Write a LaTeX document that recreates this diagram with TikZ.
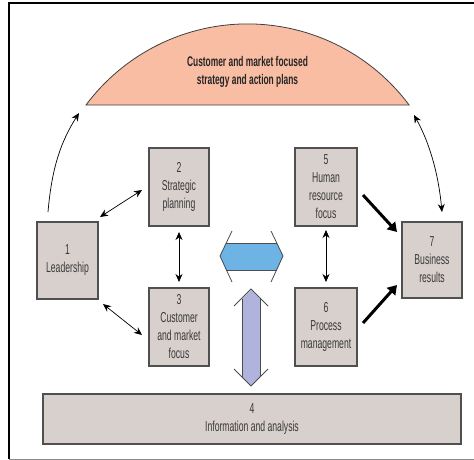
\documentclass[tikz,border=0pt]{standalone}
\usepackage{fontspec}
\setmainfont{Liberation Sans}[FakeStretch=0.6]
\usetikzlibrary{arrows.meta}
\definecolor{boxfill}{HTML}{D7D0CD}
\definecolor{boxline}{HTML}{505050}
\definecolor{txt}{HTML}{3A3A3A}
\definecolor{dome}{HTML}{F8BDA2}
\definecolor{hblue}{HTML}{6DB3E3}
\definecolor{vlav}{HTML}{B0B3DB}
\tikzset{
  box/.style={draw=boxline, line width=1.1pt, fill=boxfill, text=txt, align=center,
    font=\fontsize{14.4}{18}\selectfont, inner sep=0pt},
  thin/.style={line width=0.7pt, {Stealth[length=8pt,width=7pt]}-{Stealth[length=8pt,width=7pt]}},
  thinone/.style={line width=0.7pt, -{Stealth[length=8pt,width=7pt]}},
  thick/.style={line width=3pt, -{Triangle[length=9pt,width=11pt]}},
}
\begin{document}
\begin{tikzpicture}[x=1pt,y=-1pt]
\useasboundingbox (0,0) rectangle (474,460);
% frame
\draw[line width=1.5pt, black] (474,3) -- (9,3) -- (9,459);
\draw[line width=1pt, black!45] (9,459) -- (474,459);
% dome
\fill[dome] (86,105) arc[start angle=216.7, end angle=323.3, radius=201.5] -- cycle;
\draw[line width=0.8pt, black!75] (86,105) arc[start angle=216.7, end angle=323.3, radius=201.5] -- cycle;
\node[text=black!85, align=center, font=\fontsize{14}{18}\selectfont\bfseries] (dometxt) at (247.5,72) {Customer and market focused\\strategy and action plans};
\coordinate (domeL) at (79,113);
\coordinate (domeR) at (414,115);
% boxes
\node[box, minimum width=61pt, minimum height=77pt] (b1) at (67.5,260.5) {1\\Leadership};
\node[box, minimum width=60pt, minimum height=78pt] (b2) at (179,187) {2\\Strategic\\planning};
\node[box, minimum width=60pt, minimum height=78pt] (b3) at (179,327) {3\\Customer\\and market\\focus};
\node[box, minimum width=62pt, minimum height=78pt] (b5) at (326,187) {5\\Human\\resource\\focus};
\node[box, minimum width=62pt, minimum height=78pt] (b6) at (326,327) {6\\Process\\management};
\node[box, minimum width=60pt, minimum height=76pt] (b7) at (432,260) {7\\Business\\results};
\node[box, minimum width=418pt, minimum height=50pt] (b4) at (252,419) {4\\Information and analysis};
% curved arrows
\draw[thinone] (48,212) .. controls (52,165) and (62,140) .. (domeL);
\draw[thin] (domeR) .. controls (428,140) and (438,170) .. (442,212);
% thin double arrows
\draw[thin] (100,217) -- (142,190);
\draw[thin] (103,304) -- (142,335);
\draw[thin] (179,232) -- (179,282);
\draw[thin] (326,230) -- (326,282);
% thick arrows
\draw[thick] (363,195) -- (397,232);
\draw[thick] (363,323) -- (397,285);
% horizontal blue arrow
\fill[hblue] (220,256) -- (226,243) -- (277,243) -- (283,256) -- (277,270) -- (226,270) -- cycle;
\draw[line width=0.8pt, black!70] (226,243) -- (277,243) (226,270) -- (277,270);
\draw[line width=0.8pt, black!70] (232,231) -- (220,256) -- (232,282);
\draw[line width=0.8pt, black!70] (271,231) -- (283,256) -- (271,282);
% vertical lavender arrow
\fill[vlav] (251,290) -- (260,299) -- (260,377) -- (251,386) -- (242,377) -- (242,299) -- cycle;
\draw[line width=0.8pt, black!70] (242,299) -- (242,377) (260,299) -- (260,377);
\draw[line width=0.8pt, black!70] (234,306) -- (251,289) -- (268,306);
\draw[line width=0.8pt, black!70] (234,369) -- (251,386) -- (268,369);
\end{tikzpicture}
\end{document}
